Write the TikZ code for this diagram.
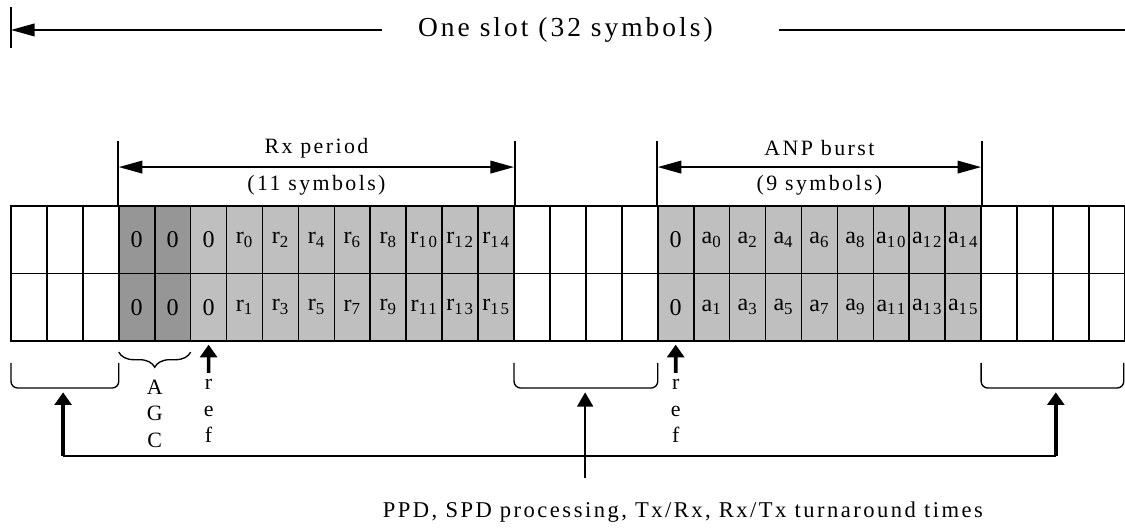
\documentclass[tikz,border=0pt]{standalone}
\usepackage{fontspec}
\setmainfont[LetterSpace=11]{Liberation Serif}
\usetikzlibrary{arrows.meta,calc,decorations.pathreplacing}
\usepackage{tkz-euclide}
\definecolor{AgcClr}{rgb}{0.59,0.59,0.59}
\definecolor{SymClr}{rgb}{0.75,0.75,0.75}

\tikzset{
  cell/.style={draw,line width=1pt,minimum width=.75cm,minimum height=1.41cm,
    inner sep=0pt,font=\fontsize{14.3}{16}\selectfont},
  span/.style={line width=1pt,-{Triangle[length=14pt,width=7.5pt]}},
  spans/.style={line width=1pt,{Triangle[length=14pt,width=7.5pt]}-{Triangle[length=14pt,width=7.5pt]}},
  bar/.style={line width=1pt},
  pointer/.style={line width=2.2pt,-{Triangle[length=7.5pt,width=10pt]}},
  feed/.style={line width=1.2pt,-{Triangle[length=8.5pt,width=9.5pt]}},
  gap/.style={line width=.8pt,rounded corners=4pt},
}

\begin{document}
\begin{tikzpicture}[scale=.75,font=\fontsize{13}{15.7}\selectfont]
\useasboundingbox (-.306,-5.23) rectangle (31.004,9.49);

\tkzDefPoints{0/9.30/SlT,0/8.16/SlD,0/8.656/SlO,10.33/8.656/SlA,21.37/8.656/SlB,31.1/8.656/SlE}
\tkzDefPoints{3/4.84/RxL,14/4.84/RxR,18/4.84/AnL,27/4.84/AnR}
\tkzDefPoints{5.5/-.89/RfA,18.5/-.89/RfB}
\tkzDefPoints{1.45/-3.2/FbL,1.45/-1.43/GpL,15.98/-3.81/FbM,15.98/-1.43/GpM,29.08/-3.2/FbR,29.08/-1.43/GpR}

% slot cells
\foreach \i in {0,1,2,14,15,16,17,27,28,29,30}{
  \node[cell] (t\i) at (\i+.5,2.82) {};
  \node[cell] (b\i) at (\i+.5,.94) {};
}
\foreach \i in {3,4}{
  \node[cell,fill=AgcClr] (t\i) at (\i+.5,2.82) {0};
  \node[cell,fill=AgcClr] (b\i) at (\i+.5,.94) {0};
}
\foreach \i in {5,18}{
  \node[cell,fill=SymClr] (t\i) at (\i+.5,2.82) {0};
  \node[cell,fill=SymClr] (b\i) at (\i+.5,.94) {0};
}
\foreach \i [evaluate=\i as \k using int(2*\i-12),evaluate=\i as \m using int(2*\i-11)] in {6,...,13}{
  \node[cell,fill=SymClr] (t\i) at (\i+.5,2.82) {r\textsubscript{\k}};
  \node[cell,fill=SymClr] (b\i) at (\i+.5,.94) {r\textsubscript{\m}};
}
\foreach \i [evaluate=\i as \k using int(2*\i-38),evaluate=\i as \m using int(2*\i-37)] in {19,...,26}{
  \node[cell,fill=SymClr] (t\i) at (\i+.5,2.82) {a\textsubscript{\k}};
  \node[cell,fill=SymClr] (b\i) at (\i+.5,.94) {a\textsubscript{\m}};
}

% one slot
\node[font=\fontsize{16.3}{18}\selectfont] (slot) at (15.43,8.656) {One slot (32 symbols)};
\draw[bar] (SlT) -- (SlD);
\draw[span] (SlA) -- (SlO);
\draw[bar] (SlB) -- (SlE);

% Rx period and ANP burst
\draw[bar] (t3.north west) -- ++(0,1.78);
\draw[bar] (t13.north east) -- ++(0,1.78);
\draw[spans] (RxL) -- (RxR);
\node (rxname) at (8.5,5.37) {Rx period};
\node (rxlen) at (8.5,4.34) {(11 symbols)};
\draw[bar] (t18.north west) -- ++(0,1.78);
\draw[bar] (t26.north east) -- ++(0,1.78);
\draw[spans] (AnL) -- (AnR);
\node (anname) at (22.5,5.37) {ANP burst};
\node (anlen) at (22.5,4.34) {(9 symbols)};

% AGC and ref marks
\draw[line width=.8pt,decorate,decoration={brace,mirror,amplitude=9pt}] (3,-.31) -- (5,-.31);
\node[align=center] (agc) at (4,-2.02) {A\\G\\C};
\node[align=center] (refa) at (5.5,-1.95) {r\\e\\f};
\node[align=center] (refb) at (18.5,-1.95) {r\\e\\f};
\draw[pointer,shorten >=1.7pt] (RfA) -- (b5.south);
\draw[pointer,shorten >=1.7pt] (RfB) -- (b18.south);

% guard gaps
\draw[gap] (0,-.61) -- (0,-1.31) -- (3,-1.31) -- (3,-.61);
\draw[gap] (14,-.61) -- (14,-1.31) -- (18,-1.31) -- (18,-.61);
\draw[gap] (27,-.61) -- (27,-1.31) -- (30.97,-1.31) -- (30.97,-.61);
\draw[line width=.8pt] (FbL) -- (FbR);
\draw[pointer] (FbL) -- (GpL);
\draw[pointer] (FbR) -- (GpR);
\draw[feed] (FbM) -- (GpM);
\node[font=\fontsize{13.4}{16}\selectfont] (note) at (18.7,-4.76) {PPD, SPD processing, Tx/Rx, Rx/Tx turnaround times};

\end{tikzpicture}
\end{document}
